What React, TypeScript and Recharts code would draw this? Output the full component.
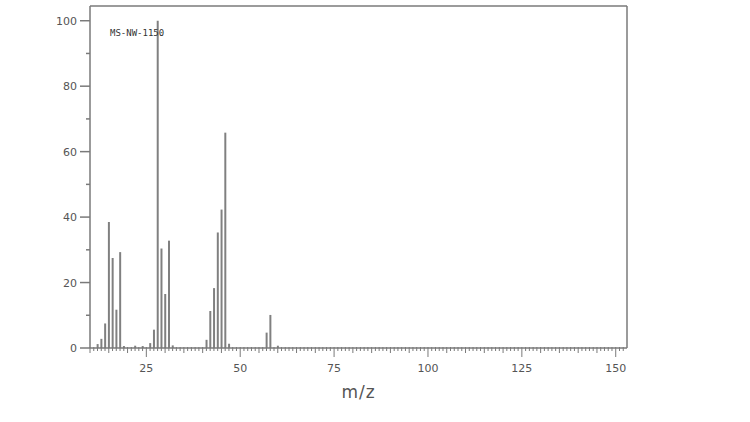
import React from 'react';
import { BarChart, Bar, XAxis, YAxis, ReferenceLine, Label } from 'recharts';

// m/z values and relative intensities (%)
const massToCharge = [12, 13, 14, 15, 16, 17, 18, 19, 22, 24, 26, 27, 28, 29, 30, 31, 32, 41, 42, 43, 44, 45, 46, 47, 57, 58, 60];
const relIntensity = [1.2, 2.8, 7.5, 38.5, 27.5, 11.7, 29.3, 0.6, 0.7, 0.6, 1.5, 5.6, 100, 30.4, 16.5, 32.8, 0.8, 2.5, 11.3, 18.3, 35.3, 42.3, 65.8, 1.3, 4.7, 10.1, 0.7];

const xLabelTicks = [25, 50, 75, 100, 125, 150];
const yLabelTicks = [0, 20, 40, 60, 80, 100];
const yMinorTicks = [10, 30, 50, 70, 90];

const X_MIN = 10;
const X_MAX = 153;
const Y_MAX = 104.5;
const spectrumId = 'MS-NW-1150';

const chartData = massToCharge.map((m, i) => ({ mz: m, intensity: relIntensity[i] }));

// one tick per mass unit
const xTicks: number[] = [];
for (let m = X_MIN; m <= 152; m++) xTicks.push(m);
const yTicks = [...yLabelTicks, ...yMinorTicks].sort((a, b) => a - b);

const AXIS = '#7a7a7a';
const TEXT = '#555';
const FONT = '"DejaVu Sans", Verdana, sans-serif';

function MzTick(props: any) {
  const { x, y, payload } = props;
  const v = payload.value;
  const labelled = xLabelTicks.includes(v);
  const len = labelled ? 9 : v % 5 === 0 ? 5 : 3;
  return (
    <g>
      <line x1={x} x2={x} y1={y - 1} y2={y + len} stroke={AXIS} strokeWidth={1} />
      {labelled && (
        <text x={x} y={y + 24} textAnchor="middle" fontSize={11} fill={TEXT} fontFamily={FONT}>
          {v}
        </text>
      )}
    </g>
  );
}

function IntensityTick(props: any) {
  const { x, y, payload } = props;
  const v = payload.value;
  const labelled = yLabelTicks.includes(v);
  return (
    <g>
      <line x1={x - (labelled ? 10 : 4)} x2={x} y1={y} y2={y} stroke={AXIS} strokeWidth={1.5} />
      {labelled && (
        <text x={x - 13} y={y + 4} textAnchor="end" fontSize={11} fill={TEXT} fontFamily={FONT}>
          {v}
        </text>
      )}
    </g>
  );
}

export default function App() {
  return (
    <div style={{ position: 'absolute', left: 0, top: 0, width: 750, height: 422, background: '#fff' }}>
      <BarChart
        width={750}
        height={422}
        data={chartData}
        margin={{ top: 6, right: 123, bottom: 14, left: 0 }}
        barCategoryGap={0}
      >
        <XAxis
          dataKey="mz"
          type="number"
          domain={[X_MIN, X_MAX]}
          allowDataOverflow
          ticks={xTicks}
          interval={0}
          tick={<MzTick />}
          tickLine={false}
          tickSize={0}
          tickMargin={0}
          height={60}
          axisLine={{ stroke: AXIS, strokeWidth: 1.5 }}
        >
          <Label
            value="m/z"
            position="insideBottom"
            offset={10}
            style={{ fontSize: 17, fill: TEXT, fontFamily: FONT, letterSpacing: 1 }}
          />
        </XAxis>
        <YAxis
          type="number"
          domain={[0, Y_MAX]}
          allowDataOverflow
          ticks={yTicks}
          interval={0}
          tick={<IntensityTick />}
          tickLine={false}
          tickSize={0}
          tickMargin={0}
          width={90}
          axisLine={{ stroke: AXIS, strokeWidth: 1.5 }}
        />
        <ReferenceLine y={Y_MAX} stroke={AXIS} strokeWidth={1.5} />
        <ReferenceLine x={X_MAX} stroke={AXIS} strokeWidth={1.5} />
        <Bar dataKey="intensity" fill="#808080" barSize={2} isAnimationActive={false} />
      </BarChart>
      <div
        style={{
          position: 'absolute',
          left: 110,
          top: 27,
          fontSize: 9,
          fontFamily: '"DejaVu Sans Mono", monospace',
          color: '#333',
          lineHeight: '12px',
        }}
      >
        {spectrumId}
      </div>
    </div>
  );
}
